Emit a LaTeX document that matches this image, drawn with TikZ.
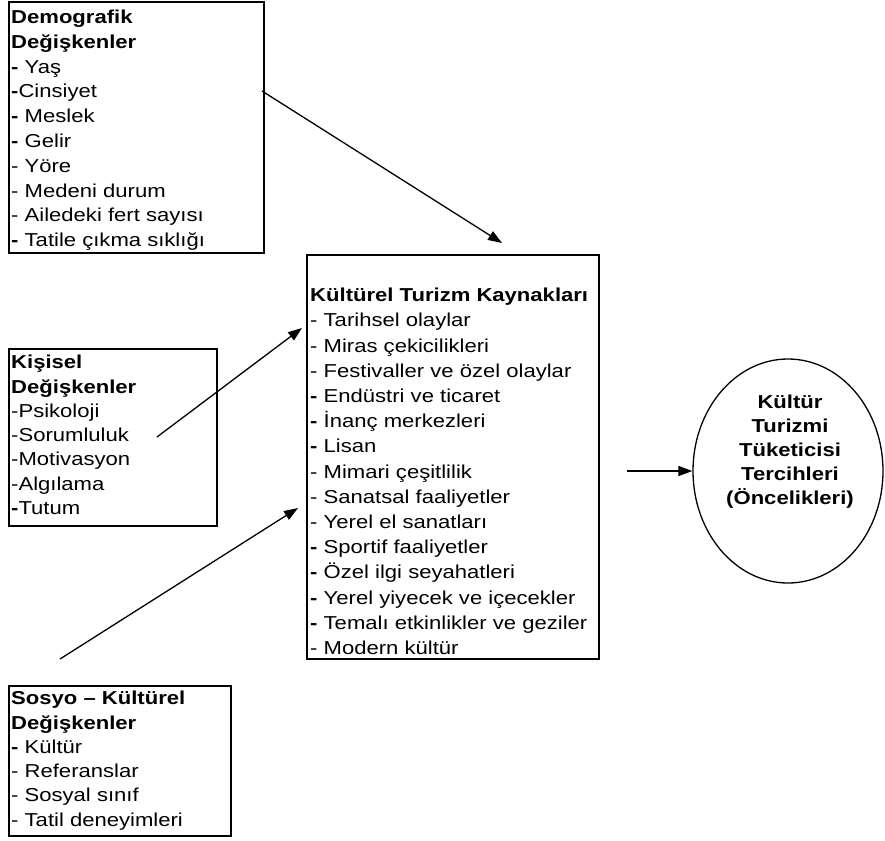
\documentclass[tikz,border=0pt]{standalone}
\usepackage{fontspec}
\setmainfont{Liberation Sans}[FakeStretch=1.18]
\usetikzlibrary{arrows.meta,shapes.geometric}
\begin{document}
\begin{tikzpicture}[x=1pt,y=-1pt,
  boxnode/.style={draw, line width=1.8pt, inner sep=0pt, anchor=north west},
  txt/.style={anchor=north west, inner sep=0pt, align=left},
  bigskip/.style={font=\fontsize{18.7}{24.8}\selectfont},
  smallskip/.style={font=\fontsize{18.7}{24.3}\selectfont},
  conn/.style={line width=1.3pt, -{Triangle[length=14pt,width=10pt]}}
]
\useasboundingbox (0,0) rectangle (885,840);

% boxes
\node[boxnode, minimum width=255pt, minimum height=251pt] (demo) at (8,1) {};
\node[boxnode, minimum width=208pt, minimum height=177pt] (kisi) at (8,348) {};
\node[boxnode, minimum width=292pt, minimum height=404pt] (kayn) at (306,254) {};
\node[boxnode, minimum width=222pt, minimum height=150pt] (sosyo) at (8,685) {};
\node[draw, ellipse, line width=1.3pt, minimum width=190pt, minimum height=224pt, inner sep=0pt] (tercih) at (788,471) {};

% texts
\node[txt, bigskip] (demotxt) at (11,9.7) {\textbf{Demografik}\\ \textbf{Değişkenler}\\
 \textbf{-} Yaş\\ \textbf{-}Cinsiyet\\ \textbf{-} Meslek\\ \textbf{-} Gelir\\ - Yöre\\
 - Medeni durum\\ - Ailedeki fert sayısı\\ \textbf{-} Tatile çıkma sıklığı};

\node[txt, smallskip] (kisitxt) at (11,355) {\textbf{Kişisel}\\ \textbf{Değişkenler}\\
 -Psikoloji\\ -Sorumluluk\\ -Motivasyon\\ -Algılama\\ \textbf{-}Tutum};

\node[txt, font=\fontsize{18.7}{25.2}\selectfont] (kayntxt) at (310,288) {\textbf{Kültürel Turizm Kaynakları}\\
 - Tarihsel olaylar\\ - Miras çekicilikleri\\ - Festivaller ve özel olaylar\\
 \textbf{-} Endüstri ve ticaret\\ \textbf{-} İnanç merkezleri\\ \textbf{-} Lisan\\
 - Mimari çeşitlilik\\ - Sanatsal faaliyetler\\ - Yerel el sanatları\\
 \textbf{-} Sportif faaliyetler\\ \textbf{-} Özel ilgi seyahatleri\\
 \textbf{-} Yerel yiyecek ve içecekler\\ \textbf{-} Temalı etkinlikler ve geziler\\
 - Modern kültür};

\node[txt, smallskip] (sosyotxt) at (11,691) {\textbf{Sosyo – Kültürel}\\ \textbf{Değişkenler}\\
 \textbf{-} Kültür\\ - Referanslar\\ - Sosyal sınıf\\ - Tatil deneyimleri};

\node[anchor=north, inner sep=0pt, align=center, font=\fontsize{18.7}{24}\selectfont\bfseries] (tercihtxt) at (790,395)
 {Kültür\\ Turizmi\\ Tüketicisi\\ Tercihleri\\ (Öncelikleri)};

% connector ends
\coordinate (a1s) at (262,91);
\coordinate (a1e) at (502,243);
\coordinate (a2s) at (157,437);
\coordinate (a2e) at (302,328);
\coordinate (a3s) at (60,659);
\coordinate (a3e) at (298,508);
\coordinate (a4s) at (627,471);
\coordinate (a4e) at (tercih.west);

\draw[conn] (a1s) -- (a1e);
\draw[conn] (a2s) -- (a2e);
\draw[conn] (a3s) -- (a3e);
\draw[conn] (a4s) -- (a4e);
\end{tikzpicture}
\end{document}
